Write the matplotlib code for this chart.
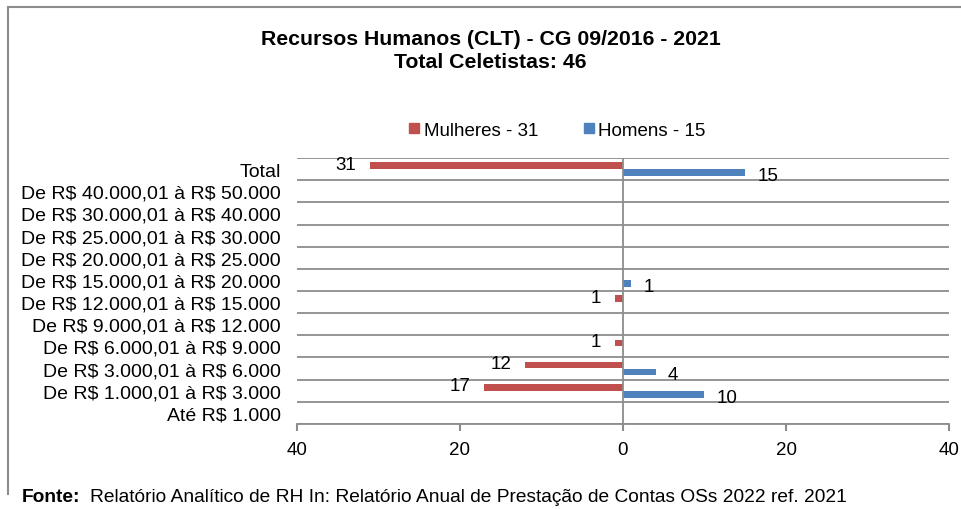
import numpy as np
import matplotlib.pyplot as plt
from matplotlib.lines import Line2D

plt.rcParams["font.family"] = ["Liberation Sans", "DejaVu Sans"]

# categories from bottom to top
categories = [
    "Até R$ 1.000",
    "De R$ 1.000,01 à R$ 3.000",
    "De R$ 3.000,01 à R$ 6.000",
    "De R$ 6.000,01 à R$ 9.000",
    "De R$ 9.000,01 à R$ 12.000",
    "De R$ 12.000,01 à R$ 15.000",
    "De R$ 15.000,01 à R$ 20.000",
    "De R$ 20.000,01 à R$ 25.000",
    "De R$ 25.000,01 à R$ 30.000",
    "De R$ 30.000,01 à R$ 40.000",
    "De R$ 40.000,01 à R$ 50.000",
    "Total",
]
mulheres = [0, 17, 12, 1, 0, 1, 0, 0, 0, 0, 0, 31]
homens = [0, 10, 4, 0, 0, 0, 1, 0, 0, 0, 0, 15]
xticks = [-40, -20, 0, 20, 40]

RED = "#c0504d"
BLUE = "#4f81bd"
GRID = "#8c8c8c"
FS = 13.5

fig = plt.figure(figsize=(9.62, 5.10), dpi=100)
ax = fig.add_axes([0.3087, 0.1667, 0.6778, 0.5215])

y = np.arange(len(categories))
h = 0.3
ax.barh(y + 0.16, [-v for v in mulheres], height=h, color=RED, zorder=3)
ax.barh(y - 0.16, homens, height=h, color=BLUE, zorder=3)

for yi, m, w in zip(y, mulheres, homens):
    if m:
        ax.annotate(str(m), (-m, yi + 0.16), xytext=(-10, 1), textcoords="offset points",
                    ha="right", va="center", fontsize=FS)
    if w:
        ax.annotate(str(w), (w, yi - 0.16), xytext=(9, -2), textcoords="offset points",
                    ha="left", va="center", fontsize=FS)

ax.set_xlim(-40, 40)
ax.set_ylim(-0.5, len(categories) - 0.5)
ax.set_xticks(xticks)
ax.set_xticklabels([str(abs(t)) for t in xticks], fontsize=FS)
ax.set_yticks(y)
ax.set_yticklabels(categories, fontsize=14, parse_math=False)
ax.tick_params(axis="y", length=0, pad=11.5)
ax.tick_params(axis="x", length=5, color=GRID, width=1.5, pad=7)

for b in np.arange(-0.5, len(categories), 1.0):
    ax.axhline(b, color=GRID, lw=1.3, zorder=1)
ax.axvline(0, color=GRID, lw=1.3, zorder=4)
for s in ["top", "right", "left"]:
    ax.spines[s].set_visible(False)
ax.spines["bottom"].set_color(GRID)
ax.spines["bottom"].set_linewidth(1.3)

fig.text(0.51, 0.923, "Recursos Humanos (CLT) - CG 09/2016 - 2021", ha="center", va="center",
         fontsize=15.3, fontweight="bold")
fig.text(0.51, 0.877, "Total Celetistas: 46", ha="center", va="center",
         fontsize=15.3, fontweight="bold")

handles = [Line2D([], [], marker="s", ls="", color=RED, markersize=7),
           Line2D([], [], marker="s", ls="", color=BLUE, markersize=7)]
fig.legend(handles, ["Mulheres - 31", "Homens - 15"], loc="center", bbox_to_anchor=(0.578, 0.743),
           ncol=2, frameon=False, fontsize=FS, handletextpad=0.1, columnspacing=2.3, handlelength=0.8)

fig.text(0.023, 0.025, "Fonte:", fontsize=13.8, fontweight="bold", va="center")
fig.text(0.0936, 0.025, "Relatório Analítico de RH In: Relatório Anual de Prestação de Contas OSs 2022 ref. 2021",
         fontsize=13.8, va="center")

# chart border
fig.add_artist(Line2D([8 / 962, 1.0], [1 - 8 / 510, 1 - 8 / 510], color=GRID, lw=1.5))
fig.add_artist(Line2D([8 / 962, 8 / 962], [1 - 8 / 510, 1 - 495 / 510], color=GRID, lw=1.5))

fig.savefig("out.png", dpi=100)
